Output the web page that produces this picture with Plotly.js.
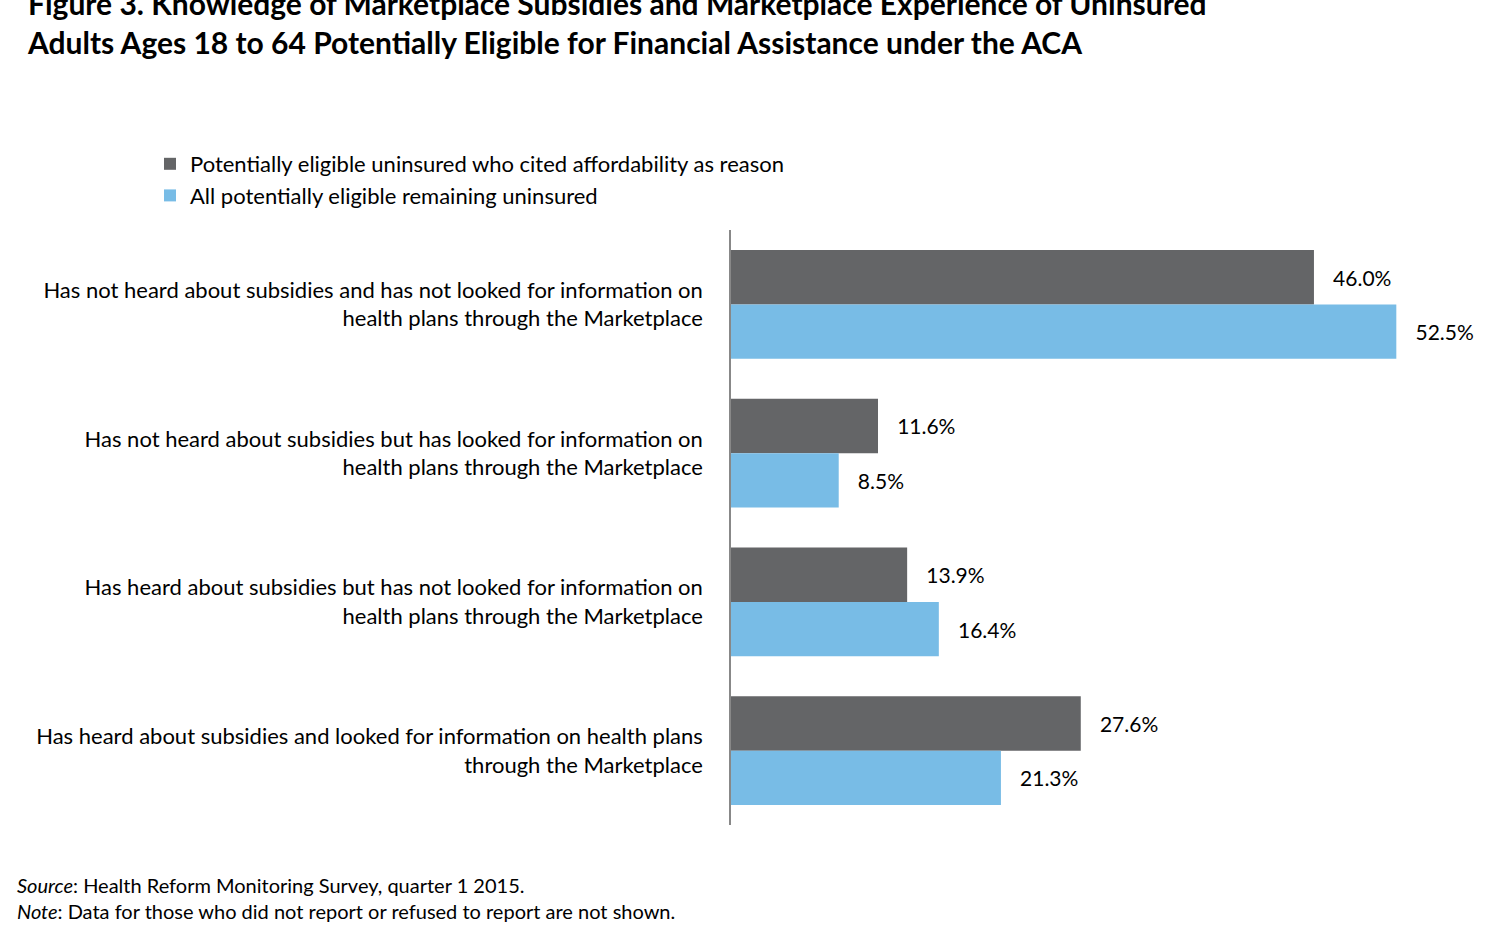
<!DOCTYPE html>
<html>
<head>
<meta charset="utf-8">
<script src="https://cdn.plot.ly/plotly-3.0.1.min.js"></script>
<style>body{margin:0;background:#fff}#chart{width:1491px;height:941px}</style>
</head>
<body>
<div id="chart"></div>
<script>
const categories = [
  'Has not heard about subsidies and has not looked for information on<br>health plans through the Marketplace',
  'Has not heard about subsidies but has looked for information on<br>health plans through the Marketplace',
  'Has heard about subsidies but has not looked for information on<br>health plans through the Marketplace',
  'Has heard about subsidies and looked for information on health plans<br>through the Marketplace'
];
const affordability = [46.0, 11.6, 13.9, 27.6];
const allEligible = [52.5, 8.5, 16.4, 21.3];
const seriesNames = ['Potentially eligible uninsured who cited affordability as reason', 'All potentially eligible remaining uninsured'];

const fontFam = 'Lato, "Open Sans", sans-serif';
function trace(vals, name, color) {
  return {
    type: 'bar', orientation: 'h', x: vals, y: categories, name: name,
    marker: {color: color},
    text: vals.map(v => '   ' + v.toFixed(1) + '%'), textposition: 'outside',
    textfont: {size: 21, color: '#000'}, cliponaxis: false,
    hoverinfo: 'x'
  };
}
const data = [trace(affordability, seriesNames[0], '#646567'), trace(allEligible, seriesNames[1], '#78bce6')];
const layout = {
  width: 1491, height: 941,
  margin: {l: 731, r: 63, t: 230, b: 116},
  font: {family: fontFam, size: 22, color: '#000'},
  barmode: 'group', bargap: 0.27, bargroupgap: 0,
  showlegend: true,
  legend: {orientation: 'h', x: 150/1491, xref: 'container', xanchor: 'left',
    y: 1 - 143/941, yref: 'container', yanchor: 'top',
    font: {size: 22}, itemwidth: 30, entrywidth: 723, entrywidthmode: 'pixels', traceorder: 'normal'},
  title: {text: '<b>Figure 3. Knowledge of Marketplace Subsidies and Marketplace Experience of Uninsured<br>Adults Ages 18 to 64 Potentially Eligible for Financial Assistance under the ACA</b>',
    x: 28/1491, xref: 'container', xanchor: 'left', y: 1 - 15/941, yref: 'container', yanchor: 'top',
    font: {size: 30, color: '#000'}},
  xaxis: {range: [0, 55], visible: false, fixedrange: true},
  yaxis: {autorange: 'reversed', showline: true, linecolor: '#888', linewidth: 1.5,
    ticks: '', ticklabelstandoff: 22, showgrid: false, zeroline: false, tickfont: {size: 22}},
  annotations: [
    {text: '<i>Source</i>: Health Reform Monitoring Survey, quarter 1 2015.', xref: 'paper', yref: 'paper',
      x: -731/697, xshift: 15, y: -0.1, xanchor: 'left', yanchor: 'middle', showarrow: false, font: {size: 20}},
    {text: '<i>Note</i>: Data for those who did not report or refused to report are not shown.', xref: 'paper', yref: 'paper',
      x: -731/697, xshift: 15, y: -0.145, xanchor: 'left', yanchor: 'middle', showarrow: false, font: {size: 20}}
  ]
};
Plotly.newPlot('chart', data, layout, {displayModeBar: false});
</script>
</body>
</html>
